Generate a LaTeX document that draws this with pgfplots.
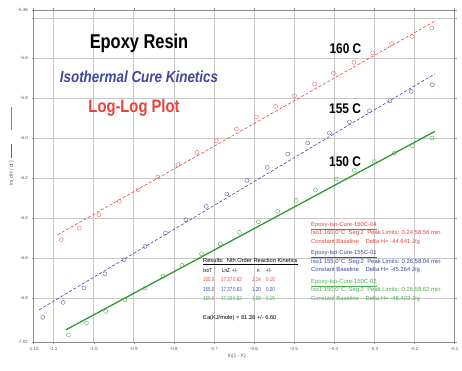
\documentclass[border=0pt]{standalone}
\usepackage{pgfplots}
\pgfplotsset{compat=1.18}
\usepackage{fontspec}
\setmainfont{Liberation Sans}
\definecolor{cred}{HTML}{E8423C}
\definecolor{cblue}{HTML}{3C48A0}
\definecolor{cgreen}{HTML}{2E9A2E}
\definecolor{tgreen}{HTML}{4CAF50}
\definecolor{gridc}{HTML}{C8C8C8}
\definecolor{axc}{HTML}{8C8C8C}
\newcommand{\cell}[2]{\makebox[#1][l]{\scalebox{0.78}[1]{#2}}}
\newcommand{\rowr}[5]{\cell{18pt}{#1}\cell{12pt}{#2}\cell{19pt}{#3}\cell{14pt}{#4}\cell{10pt}{#5}}
\begin{document}
\begin{tikzpicture}
\path[use as bounding box] (-33.5pt,-29pt) rectangle (428.5pt,342pt);
\begin{axis}[
  at={(0,0)}, anchor=south west, scale only axis,
  width=421pt, height=332pt,
  xmin=-1.15, xmax=-0.1, ymin=-7.02, ymax=-5.36,
  xtick={-1.15,-1.1,-1.0,-0.9,-0.8,-0.7,-0.6,-0.5,-0.4,-0.3,-0.2,-0.1},
  xticklabels={-1.15,-1.1,-1.0,-0.9,-0.8,-0.7,-0.6,-0.5,-0.4,-0.3,-0.2,-0.1},
  ytick={-7.02,-6.8,-6.6,-6.4,-6.2,-6.0,-5.8,-5.6,-5.36},
  yticklabels={-7.02,-6.8,-6.6,-6.4,-6.2,-6.0,-5.8,-5.6,-5.36},
  extra y ticks={-5.4}, extra y tick labels={},
  grid=major, major grid style={gridc, line width=0.6pt},
  axis line style={axc, line width=0.8pt},
  tick style={axc}, tick align=outside, major tick length=2pt,
  /pgf/number format/assume math mode=true,
  tick label style={font=\fontsize{4.5}{5}\selectfont, text=black!65},
  xlabel={ln(1 - X)},
  xlabel style={font=\fontsize{5}{6}\selectfont, text=black!65, at={(axis description cs:0.483,-0.042)}, anchor=center},
  ylabel={ln( dH / dt )\hspace{3pt}\textcolor{black!60}{\rule[0.4ex]{14pt}{0.4pt}}\hspace{14pt}\textcolor{tgreen}{\rule[0.4ex]{23pt}{1.2pt}}},
  ylabel style={font=\fontsize{5}{6}\selectfont, text=black!65, at={(axis description cs:-0.052,0.59)}, anchor=center, rotate=0},
  clip=false,
]
% 160 C data
\addplot[only marks, mark=o, mark size=2pt, draw=cred!80] coordinates {
(-1.081,-6.508) (-1.036,-6.450) (-0.987,-6.384) (-0.936,-6.317) (-0.889,-6.259)
(-0.840,-6.196) (-0.790,-6.134) (-0.742,-6.072) (-0.694,-6.014) (-0.644,-5.955)
(-0.594,-5.895) (-0.546,-5.842) (-0.499,-5.789) (-0.449,-5.730) (-0.402,-5.675)
(-0.351,-5.622) (-0.304,-5.575) (-0.257,-5.528) (-0.206,-5.492) (-0.157,-5.450)};
\addplot[cred, densely dashed, line width=0.6pt] coordinates {(-1.090,-6.484) (-0.150,-5.417)};
% 155 C data
\addplot[only marks, mark=o, mark size=2pt, draw=cblue!85] coordinates {
(-1.127,-6.897) (-1.076,-6.822) (-1.024,-6.750) (-0.972,-6.679) (-0.924,-6.609)
(-0.872,-6.542) (-0.821,-6.475) (-0.770,-6.409) (-0.719,-6.342) (-0.668,-6.280)
(-0.618,-6.212) (-0.567,-6.147) (-0.516,-6.080) (-0.466,-6.025) (-0.412,-5.975)
(-0.362,-5.920) (-0.312,-5.864) (-0.261,-5.814) (-0.208,-5.767) (-0.155,-5.734)};
\addplot[cblue, densely dashed, line width=0.6pt] coordinates {(-1.136,-6.859) (-0.149,-5.679)};
% 150 C data
\addplot[only marks, mark=o, mark size=2pt, draw=tgreen] coordinates {
(-1.063,-6.985) (-1.018,-6.925) (-0.970,-6.867) (-0.922,-6.809) (-0.872,-6.750)
(-0.827,-6.692) (-0.780,-6.637) (-0.731,-6.579) (-0.684,-6.529) (-0.636,-6.472)
(-0.589,-6.419) (-0.541,-6.367) (-0.495,-6.312) (-0.447,-6.260) (-0.395,-6.205)
(-0.350,-6.162) (-0.300,-6.118) (-0.250,-6.075) (-0.205,-6.039) (-0.156,-6.000)};
\addplot[cgreen, line width=1.3pt] coordinates {(-1.069,-6.959) (-0.149,-5.967)};

\node[font=\bfseries\fontsize{20}{22}\selectfont, text=black] at (rel axis cs:0.2506,0.9006) {\scalebox{0.82}[1]{Epoxy Resin}};
\node[font=\bfseries\itshape\fontsize{16}{18}\selectfont, text=cblue] at (rel axis cs:0.2506,0.798) {\scalebox{0.84}[1]{Isothermal Cure Kinetics}};
\node[font=\bfseries\fontsize{18}{20}\selectfont, text=cred] at (rel axis cs:0.2387,0.7048) {\scalebox{0.82}[1]{Log-Log Plot}};
\node[font=\bfseries\fontsize{14}{16}\selectfont] at (rel axis cs:0.741,0.8825) {\scalebox{0.85}[1]{160 C}};
\node[font=\bfseries\fontsize{14}{16}\selectfont] at (rel axis cs:0.740,0.7018) {\scalebox{0.85}[1]{155 C}};
\node[font=\bfseries\fontsize{14}{16}\selectfont] at (rel axis cs:0.740,0.542) {\scalebox{0.85}[1]{150 C}};

\node[anchor=north west, inner sep=0pt, font=\fontsize{5.7}{9.5}\selectfont, align=left] at (rel axis cs:0.4026,0.252) {%
\underline{Results:\ \ Nth Order Reaction Kinetics}\\
\cell{19pt}{IsoT}\cell{10pt}{LnZ}\cell{25pt}{+/-}\cell{9pt}{n}\cell{10pt}{+/-}\\
\textcolor{cred}{\rowr{160.0}{17.37}{0.82}{1.14}{0.16}}\\
\textcolor{cblue}{\rowr{155.0}{17.37}{0.83}{1.20}{0.20}}\\
\textcolor{tgreen}{\rowr{150.0}{17.33}{0.82}{1.08}{0.15}}\\[9pt]
Ea(KJ/mole) = 81.38 +/- 6.60};

\node[anchor=north west, inner sep=0pt, font=\fontsize{5.9}{8.5}\selectfont, align=left] at (rel axis cs:0.659,0.3614) {%
\textcolor{cred}{\underline{Epoxy-Iso-Cure-160C-04}}\\
\textcolor{cred}{Iso1 160.0°C\ \ Seg:2\ \ Peak Limits: 0.24,58.56 min}\\
\textcolor{cred}{Constant Baseline\ \ \ \ Delta H= -44.641 J/g}\\[3pt]
\textcolor{cblue}{\underline{Epoxy-Iso-Cure-155C-01}}\\
\textcolor{cblue}{Iso1 155.0°C\ \ Seg:2\ \ Peak Limits: 0.26,58.04 min}\\
\textcolor{cblue}{Constant Baseline\ \ \ \ Delta H= -45.264 J/g}\\[3pt]
\textcolor{tgreen}{\underline{Epoxy-Iso-Cure-150C-02}}\\
\textcolor{tgreen}{Iso1 150.0°C\ \ Seg:2\ \ Peak Limits: 0.26,58.62 min}\\
\textcolor{tgreen}{Constant Baseline\ \ \ \ Delta H= -48.423 J/g}};
\end{axis}
\end{tikzpicture}
\end{document}
